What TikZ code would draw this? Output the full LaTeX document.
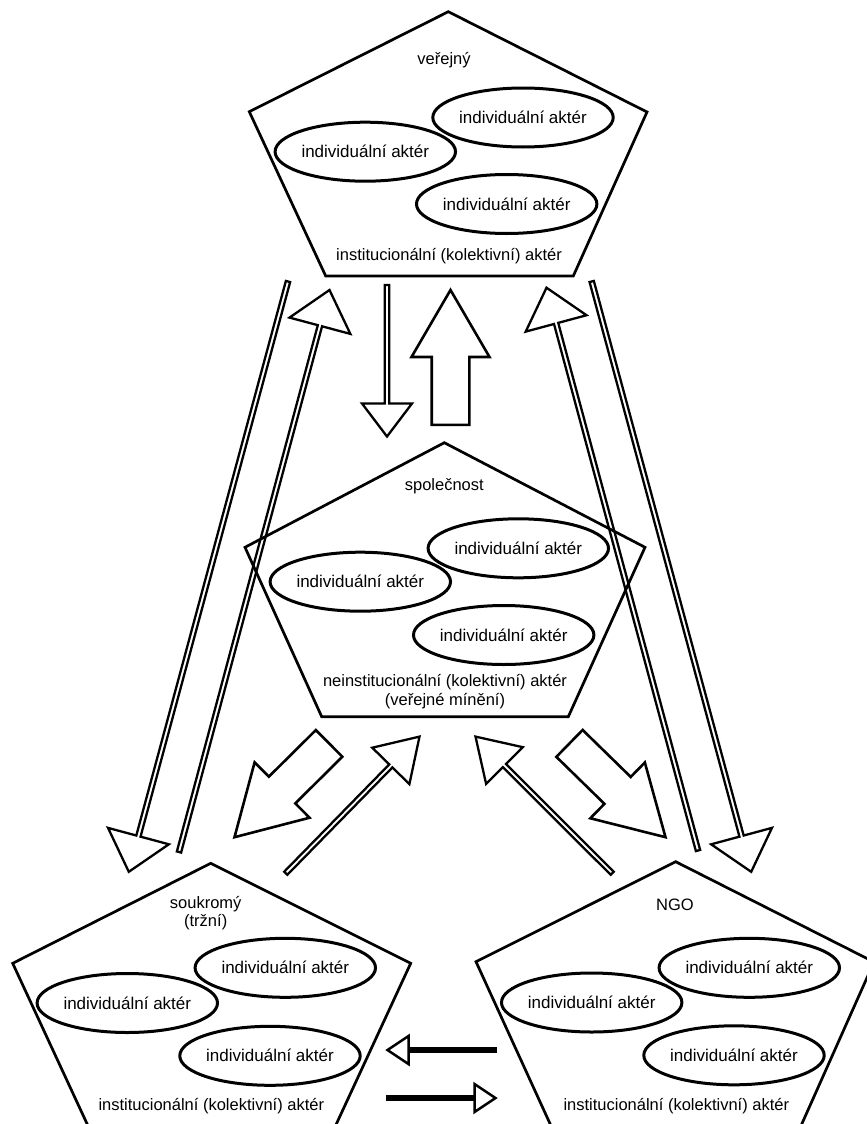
\documentclass[tikz,border=0pt]{standalone}
\usepackage{fontspec}
\setmainfont{Liberation Sans}
\usetikzlibrary{calc,shapes.geometric}
% #1 style, #2 tail, #3 tip, #4 half shaft width, #5 half head width, #6 head length
\newcommand{\hollowarr}[6][]{%
  \draw[#1] ($(#2)!#4!90:(#3)$)
    -- ($(#3)!#6!(#2)!#4!90:(#3)$)
    -- ($(#3)!#6!(#2)!#5!90:(#3)$)
    -- (#3)
    -- ($(#3)!#6!(#2)!#5!-90:(#3)$)
    -- ($(#3)!#6!(#2)!#4!-90:(#3)$)
    -- ($(#2)!#4!-90:(#3)$) -- cycle;}
% #1 tail, #2 tip
\newcommand{\solidarr}[2]{%
  \draw[line width=6pt] (#1) -- ($(#2)!21pt!(#1)$);
  \draw[line width=2.5pt, line join=miter, fill=white]
    ($(#2)!21pt!(#1)!14pt!90:(#2)$) -- (#2) -- ($(#2)!21pt!(#1)!14pt!-90:(#2)$) -- cycle;}
\begin{document}
\begin{tikzpicture}[x=1pt,y=-1pt,
  pent/.style={line width=2.7pt, line join=miter},
  actor/.style={draw, ellipse, line width=3pt, minimum width=150pt, minimum height=59pt,
    inner sep=0pt, font=\fontsize{17}{19}\selectfont},
  lbl/.style={anchor=base, inner sep=0pt, font=\fontsize{16.5}{19}\selectfont},
  thinarr/.style={line width=2.3pt, line join=miter},
  fatarr/.style={line width=2.6pt, line join=miter}]
\clip (0,0) rectangle (867,1124);
\fill[white] (0,0) rectangle (867,1124);

% ---------- pentagons ----------
\draw[pent] (448.3,11.7) -- (647,112) -- (573.3,276) -- (325.7,276) -- (249.3,111.7) -- cycle;
\draw[pent] (444.3,442.7) -- (645,547.3) -- (568.3,716.7) -- (321.7,716.7) -- (245,547.3) -- cycle;
\draw[pent] (210.7,863.3) -- (410.7,963.3) -- (334.5,1128) -- (89,1128) -- (12.7,963.3) -- cycle;
\draw[pent] (675.7,861.7) -- (874,962) -- (800,1128) -- (552,1128) -- (476,961.7) -- cycle;

% ---------- top: verejny ----------
\node[lbl] (ttitle) at (444,64.5) {veřejný};
\node[actor] (ta1) at (523,117.5) {individuální aktér};
\node[actor] (ta2) at (365.3,151.7) {individuální aktér};
\node[actor] (ta3) at (506.7,204) {individuální aktér};
\node[lbl] (tinst) at (449,260.7) {institucionální (kolektivní) aktér};

% ---------- middle: spolecnost ----------
\node[lbl] (mtitle) at (444.3,490.7) {společnost};
\node[actor] (ma1) at (518.3,548.3) {individuální aktér};
\node[actor] (ma2) at (360.3,581.7) {individuální aktér};
\node[actor] (ma3) at (503.7,635) {individuální aktér};
\node[lbl] (minst1) at (445,686.5) {neinstitucionální (kolektivní) aktér};
\node[lbl] (minst2) at (445,705) {(veřejné mínění)};

% ---------- bottom left: soukromy ----------
\node[lbl] (ltitle1) at (205.7,908.3) {soukromý};
\node[lbl] (ltitle2) at (205.7,926.5) {(tržní)};
\node[actor] (la1) at (285.3,967.8) {individuální aktér};
\node[actor] (la2) at (127.3,1003) {individuální aktér};
\node[actor] (la3) at (270,1055.8) {individuální aktér};
\node[lbl] (linst) at (211.3,1110.7) {institucionální (kolektivní) aktér};

% ---------- bottom right: NGO ----------
\node[lbl] (rtitle) at (675,910) {NGO};
\node[actor] (ra1) at (749.3,967.8) {individuální aktér};
\node[actor] (ra2) at (591.7,1002.5) {individuální aktér};
\node[actor] (ra3) at (734,1055.3) {individuální aktér};
\node[lbl] (rinst) at (676.3,1110.7) {institucionální (kolektivní) aktér};

% ---------- arrow end points ----------
\coordinate (a1s) at (288,281.5);   \coordinate (a1e) at (128.8,871.8);
\coordinate (a2s) at (179,852);     \coordinate (a2e) at (329.5,290);
\coordinate (a3s) at (698,850.5);   \coordinate (a3e) at (546.5,287.7);
\coordinate (a4s) at (591.7,281.5); \coordinate (a4e) at (751.2,871.8);
\coordinate (a5s) at (387,285);     \coordinate (a5e) at (387,436.5);
\coordinate (a6s) at (450.5,424.8); \coordinate (a6e) at (450.5,290);
\coordinate (a7s) at (329.1,743.4); \coordinate (a7e) at (234.5,837.2);
\coordinate (a8s) at (569.5,743.4); \coordinate (a8e) at (665.5,837.2);
\coordinate (a9s) at (285.8,873.2); \coordinate (a9e) at (419.5,736.6);
\coordinate (a10s) at (612.2,873.2); \coordinate (a10e) at (475.5,736.6);
\coordinate (a11s) at (497,1050);   \coordinate (a11e) at (387.5,1050);
\coordinate (a12s) at (386,1098);   \coordinate (a12e) at (495.5,1098);

% ---------- long thin arrows ----------
\hollowarr[thinarr]{a1s}{a1e}{2.2pt}{31.5pt}{37pt}
\hollowarr[thinarr]{a2s}{a2e}{2.2pt}{31.5pt}{37pt}
\hollowarr[thinarr]{a3s}{a3e}{2.2pt}{31.5pt}{37pt}
\hollowarr[thinarr]{a4s}{a4e}{2.2pt}{31.5pt}{37pt}
% middle
\hollowarr[thinarr]{a5s}{a5e}{2.2pt}{25pt}{33pt}
\hollowarr[fatarr]{a6s}{a6e}{18.8pt}{39pt}{67pt}
% fat diagonal
\hollowarr[fatarr]{a7s}{a7e}{18.8pt}{39pt}{67pt}
\hollowarr[fatarr]{a8s}{a8e}{18.8pt}{39pt}{67pt}
% thin diagonal
\hollowarr[thinarr]{a9s}{a9e}{2.2pt}{26pt}{41pt}
\hollowarr[thinarr]{a10s}{a10e}{2.2pt}{26pt}{41pt}
% solid arrows
\solidarr{a11s}{a11e}
\solidarr{a12s}{a12e}
\end{tikzpicture}
\end{document}
